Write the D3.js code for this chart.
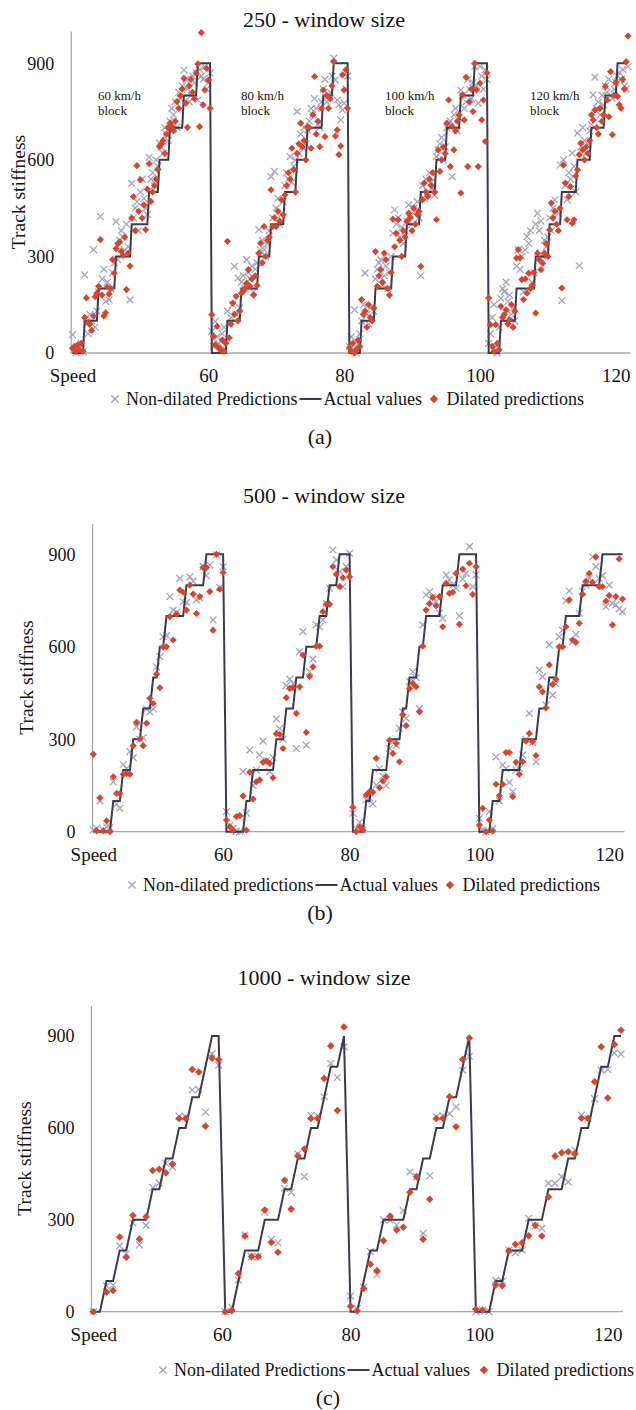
<!DOCTYPE html>
<html><head><meta charset="utf-8">
<script src="https://cdn.jsdelivr.net/npm/d3@7"></script>
<style>
body{margin:0;background:#fff}
svg{display:block;background:#fff}
svg text{font-family:"Liberation Serif","Times New Roman",Times,serif}
</style></head>
<body><svg id="chart" width="636" height="1410"></svg>
<script>
// ---------------- data ----------------
const speedLabels = ["Speed", "60", "80", "100", "120"];
const yTickValues = [0, 300, 600, 900];
const blockNames = ["60 km/h", "80 km/h", "100 km/h", "120 km/h"];
const titles = ["250 - window size", "500 - window size", "1000 - window size"];
const panelTags = ["(a)", "(b)", "(c)"];
const legendLabelsA = ["Non-dilated Predictions", "Actual values", "Dilated predictions"];
const legendLabelsB = ["Non-dilated predictions", "Actual values", "Dilated predictions"];
const legendLabelsC = ["Non-dilated Predictions", "Actual values", "Dilated predictions"];

// category index where each x label sits
const labelIndexA = [0, 78, 156, 234, 312];
const labelIndexB = [0, 39, 77, 116, 155];
const labelIndexC = [0, 19.5, 39, 58.5, 78];

// actual values: [level, number of consecutive samples] per block
const actualRunsA = [
  [[0,7],[100,8],[200,10],[300,9],[400,10],[500,6],[600,6],[700,8],[800,8],[900,8]],
  [[0,9],[100,8],[200,10],[300,7],[400,8],[500,7],[600,6],[700,9],[800,6],[900,9]],
  [[0,7],[100,8],[200,10],[300,8],[400,8],[500,9],[600,6],[700,8],[800,8],[900,8]],
  [[0,7],[100,9],[200,11],[300,8],[400,7],[500,9],[600,8],[700,8],[800,7],[900,7]]
];
const actualRunsB = [
  [[0,6],[100,3],[200,3],[300,3],[400,3],[500,2],[600,2],[700,6],[800,6],[900,6]],
  [[0,6],[100,2],[200,7],[300,3],[400,3],[500,3],[600,4],[700,3],[800,3],[900,4]],
  [[0,4],[100,2],[200,5],[300,4],[400,2],[500,3],[600,2],[700,5],[800,5],[900,6]],
  [[0,4],[100,3],[200,6],[300,5],[400,3],[500,3],[600,2],[700,5],[800,6],[900,7]]
];
const actualRunsC = [
  [[0,2],[100,2],[200,2],[300,3],[400,2],[500,2],[600,2],[700,2],[800,1],[900,2]],
  [[0,2],[100,1],[200,3],[300,3],[400,2],[500,2],[600,2],[700,1],[800,2],[900,1]],
  [[0,2],[100,1],[200,2],[300,4],[400,2],[500,2],[600,2],[700,2],[800,1],[900,1]],
  [[0,3],[100,2],[200,3],[300,3],[400,3],[500,2],[600,2],[700,1],[800,2],[900,2]]
];

// 250 window size
const nonDilatedA = [
  [57,10,0,20,15,30,5, 243,90,60,120,100,321,80,130, 190,424,230,260,160,220,165,200,250,280,
   408,290,350,380,360,320,400,330,165, 527,420,450,470,380,500,540,480,450,430, 608,540,560,520,600,580,
   652,640,620,700,680,660, 720,760,740,780,700,810,790,830, 879,850,820,780,800,860,840,870,
   786,880,860,850,890,820,840,870],
  [67,20,98,50,30,10,60,80,40, 130,90,110,150,269,120,233,140, 220,240,200,290,250,230,270,190,260,280,
   383,320,350,321,300,340,380, 548,420,564,450,480,400,430,470, 520,560,540,610,530,580,600,
   750,620,680,640,700,650, 693,720,760,740,790,760,710,700,780, 820,850,780,800,810,860,
   916,848,786,771,724,755,776,820,860],
  [20,50,10,134,0,30,60, 100,150,248,120,90,140,110,130, 230,260,280,290,210,240,270,200,250,300,
   372,445,400,420,360,390,340,380, 410,460,430,400,450,440,470,420, 240,520,480,540,500,560,530,510,490,
   610,631,650,670,600,640, 700,710,720,548,740,760,690,730, 817,800,760,780,850,820,790,840,
   890,830,776,890,860,820,880,850],
  [30,60,110,150,20,0,80, 170,200,190,220,160,180,120,140,100, 270,321,260,300,190,320,362,340,380,220,250,
   400,434,380,410,300,350,330,360, 420,380,450,476,440,434,584, 163,600,520,476,560,540,621,580,500,
   683,271,640,700,660,620,650,690, 710,802,857,760,780,740,800,770, 830,810,850,800,790,820,840,
   860,870,850,880,830,820,890]
];
const dilatedA = [
  [15,20,5,25,10,30,5, 110,171,95,90,70,115,175,186, 207,352,180,115,125,205,183,200,290,248,
   324,340,345,316,303,360,197,310,270, 419,486,380,582,440,538,419,460,383,509, 588,471,500,520,540,570,
   641,650,660,620,680,700, 714,703,690,720,781,760,800,820, 853,776,701,830,850,810,790,870,
   898,703,995,771,817,884,848,760],
  [119,52,26,83,16,10,40,5,30, 347,47,90,155,120,176,100,130, 186,191,200,217,259,207,230,180,240,210,
   310,341,280,393,300,350,360, 507,393,420,393,440,410,476,430, 491,520,560,540,636,569,500,
   620,650,714,640,660,600, 703,700,636,740,859,680,720,641,760, 817,672,800,760,790,830,
   905,674,693,616,643,864,817,880,760],
  [16,5,30,0,10,40,20, 166,120,130,80,150,110,100,140, 315,207,240,259,220,310,290,200,180,250,
   416,330,372,414,350,300,380,360, 409,434,420,380,450,400,430,440, 269,476,528,500,486,540,520,560,500,
   414,631,564,600,640,620, 714,786,579,703,631,690,720,740, 497,802,724,857,579,780,820,750,
   900,817,579,838,724,786,657,870],
  [171,88,21,5,88,30,10, 145,110,120,134,90,103,150,80,130, 295,321,295,228,166,230,186,248,200,210,250,
   124,310,290,259,279,310,340,300, 383,466,420,440,400,380,450, 202,584,528,414,486,517,403,414,550,
   569,616,652,631,600,640,620,660, 740,724,755,700,680,760,720,740, 828,786,734,874,678,800,840,
   797,771,760,850,820,905,985]
];

// 500 window size
const nonDilatedB = [
  [5,11,100,5,16,13,162,90,76,218,205,260,240,340,300,305,398,389,398,535,568,633,636,763,719,712,822,746,744,827,813,752,759,860,831,865,687,898,792,860],
  [65,20,10,2,0,195,60,265,150,200,249,294,230,195,240,366,335,300,474,495,480,270,584,649,281,519,560,671,665,687,741,790,914,882,844,795,860,903],
  [60,10,30,5,103,110,90,151,205,180,150,270,292,280,335,389,368,487,519,500,400,671,768,779,760,746,709,692,833,817,800,790,700,820,838,925,795,833],
  [43,5,0,65,10,243,100,216,205,160,130,200,205,249,300,384,290,227,525,503,411,606,443,480,633,654,749,781,617,640,709,780,800,822,892,860,822,831,730,800,741,736,723,714]
];
const dilatedB = [
  [251,3,110,3,35,0,178,124,124,186,189,186,279,355,301,279,352,433,416,511,467,600,600,698,622,706,784,777,719,800,771,708,763,857,857,779,654,900,787,841],
  [38,16,5,49,52,116,5,193,106,162,168,225,230,222,175,318,316,270,435,465,467,384,470,573,322,504,535,602,602,714,738,738,860,835,795,824,849,827],
  [79,0,16,5,119,130,128,238,143,164,178,297,254,287,227,379,344,465,481,470,389,602,719,740,760,733,763,665,806,773,777,838,673,852,798,871,770,860],
  [22,76,0,38,2,154,117,154,257,257,114,225,186,227,294,319,292,247,470,454,402,541,478,495,600,600,665,752,622,614,676,770,813,838,809,892,795,795,748,766,671,763,885,755]
];

// 1000 window size
const nonDilatedC = [
  [0,null,84,87,215,190,290,218,282,405,420,484,473,639,637,724,726,652,843,805],
  [0,15,103,250,180,180,325,236,225,403,390,515,441,640,640,702,810,765,865],
  [51,10,80,196,120,300,299,283,330,457,440,256,444,636,640,647,669,789,834],
  [0,5,0,103,100,201,193,201,305,280,272,419,419,441,424,528,642,630,696,789,791,845,841]
];
const dilatedC = [
  [0,null,64,69,244,178,314,237,310,461,465,454,482,631,631,791,783,606,828,823],
  [0,3,125,247,180,180,332,226,194,429,335,509,531,631,631,762,868,657,930],
  [18,3,76,155,134,232,312,267,276,390,441,237,367,631,631,702,604,824,894],
  [8,5,null,87,85,199,220,225,248,282,247,375,508,519,522,515,632,632,751,865,698,873,919]
];

// ---------------- drawing ----------------
const FONT = '"Liberation Serif","Times New Roman",Times,serif';
const COL_X = "#a4a4bf", COL_D = "#d5462f", COL_L = "#3b3b4e", COL_AX = "#a8a8a8", COL_T = "#141414";
const svg = d3.select("#chart");
svg.append("rect").attr("width", 636).attr("height", 1410).attr("fill", "#fff");

const crossPath = r => `M${-r},${-r}L${r},${r}M${-r},${r}L${r},${-r}`;
const diamondPath = r => `M0,${-r}L${r},0L0,${r}L${-r},0Z`;

function expandRuns(runs) {
  const out = [];
  runs.forEach(block => block.forEach(([lv, n]) => { for (let k = 0; k < n; k++) out.push(lv); }));
  return out;
}

function txt(g, x, y, size, s) {
  return g.append("text").attr("x", x).attr("y", y).attr("font-size", size)
    .style("font-family", FONT).attr("fill", COL_T).text(s);
}

function legend(g, crossX, cy, labels, size, gap3) {
  g.append("path").attr("d", crossPath(3.6)).attr("transform", `translate(${crossX},${cy})`)
    .attr("stroke", COL_X).attr("stroke-width", 1.4).attr("fill", "none");
  const t1 = txt(g, crossX + 11, cy + 6, size, labels[0]);
  let e = crossX + 11 + t1.node().getComputedTextLength();
  g.append("line").attr("x1", e + 2).attr("x2", e + 24).attr("y1", cy).attr("y2", cy)
    .attr("stroke", COL_L).attr("stroke-width", 2);
  const t2 = txt(g, e + 26, cy + 6, size, labels[1]);
  e = e + 26 + t2.node().getComputedTextLength();
  g.append("path").attr("d", diamondPath(4.2)).attr("transform", `translate(${e + gap3},${cy})`).attr("fill", COL_D);
  txt(g, e + gap3 + 12.5, cy + 6, size, labels[2]);
}

function drawPanel(p) {
  const g = svg.append("g");
  const actual = expandRuns(p.runs);
  const nd = p.nonDilated.flat();
  const dl = p.dilated.flat();
  const N = actual.length;
  const x = d3.scaleLinear().domain([0, N - 1]).range([p.x0, p.x1]);
  const y = d3.scaleLinear().domain([0, 1000]).range([p.yBottom, p.yTop]);

  // title
  txt(g, 324, p.titleY, 22, p.title).attr("text-anchor", "middle");

  // x baseline
  g.append("line").attr("x1", p.axisX).attr("x2", p.x1 + 2).attr("y1", y(0)).attr("y2", y(0))
    .attr("stroke", COL_AX).attr("stroke-width", 1.3);

  // y axis
  const ya = g.append("g").attr("transform", `translate(${p.axisX},0)`)
    .call(d3.axisLeft(y).tickValues(yTickValues).tickSize(0).tickSizeOuter(0).tickPadding(16.5));
  ya.select(".domain").attr("stroke", COL_AX).attr("stroke-width", 1.3);
  ya.selectAll("text").style("font-family", FONT).attr("font-size", 18).attr("fill", COL_T);

  // x axis labels
  const xa = g.append("g").attr("transform", `translate(0,${y(0)})`)
    .call(d3.axisBottom(x).tickValues(p.labelIdx).tickFormat((d, i) => speedLabels[i]).tickSize(0).tickPadding(16));
  xa.select(".domain").remove();
  xa.selectAll("text").style("font-family", FONT).attr("font-size", 19).attr("fill", COL_T);

  // y label
  g.append("text").attr("transform", `translate(${p.yLabelX},${(y(0) + y(1000)) / 2}) rotate(-90)`)
    .attr("text-anchor", "middle").style("font-family", FONT).attr("font-size", 19.5).attr("fill", COL_T)
    .text("Track stiffness");

  // non-dilated crosses
  g.append("g").selectAll("path").data(nd.map((v, i) => [i, v]).filter(d => d[1] !== null))
    .join("path").attr("d", crossPath(3.4))
    .attr("transform", d => `translate(${x(d[0])},${y(d[1])})`)
    .attr("stroke", COL_X).attr("stroke-width", 1.3).attr("fill", "none");

  // actual line
  g.append("path").datum(actual)
    .attr("d", d3.line().x((d, i) => x(i)).y(d => y(d)))
    .attr("fill", "none").attr("stroke", COL_L).attr("stroke-width", 2).attr("stroke-linejoin", "miter");

  // dilated diamonds
  g.append("g").selectAll("path").data(dl.map((v, i) => [i, v]).filter(d => d[1] !== null))
    .join("path").attr("d", diamondPath(p.dr))
    .attr("transform", d => `translate(${x(d[0])},${y(d[1])})`)
    .attr("fill", COL_D);

  // legend
  legend(g, p.legendX, p.legendY, p.legendLabels, 18, p.gap3);

  // panel tag
  txt(g, p.tagX, p.tagY, 22, p.tag).attr("text-anchor", "middle");

  return g;
}

const gA = drawPanel({
  title: titles[0], titleY: 27, runs: actualRunsA, nonDilated: nonDilatedA, dilated: dilatedA,
  x0: 72.5, x1: 628, axisX: 70.7, yBottom: 353, yTop: 31.1, labelIdx: labelIndexA, yLabelX: 25,
  legendX: 115, legendY: 399, legendLabels: legendLabelsA, tag: panelTags[0], tagX: 320, tagY: 444, dr: 3.6, gap3: 12
});
// block annotations (panel a)
const annX = [98, 241, 385, 530];
blockNames.forEach((nm, k) => {
  txt(gA, annX[k], 100, 13, nm);
  txt(gA, annX[k], 114.5, 13, "block");
});

drawPanel({
  title: titles[1], titleY: 502.5, runs: actualRunsB, nonDilated: nonDilatedB, dilated: dilatedB,
  x0: 93.3, x1: 622.5, axisX: 92, yBottom: 831.7, yTop: 523.5, labelIdx: labelIndexB, yLabelX: 33,
  legendX: 132, legendY: 885, legendLabels: legendLabelsB, tag: panelTags[1], tagX: 320, tagY: 920, dr: 3.6, gap3: 12
});

drawPanel({
  title: titles[2], titleY: 984.5, runs: actualRunsC, nonDilated: nonDilatedC, dilated: dilatedC,
  x0: 93.3, x1: 621, axisX: 91, yBottom: 1311.7, yTop: 1005.5, labelIdx: labelIndexC, yLabelX: 31,
  legendX: 163, legendY: 1370, legendLabels: legendLabelsC, tag: panelTags[2], tagX: 328, tagY: 1405, dr: 3.8, gap3: 14
});
</script>
</body></html>
